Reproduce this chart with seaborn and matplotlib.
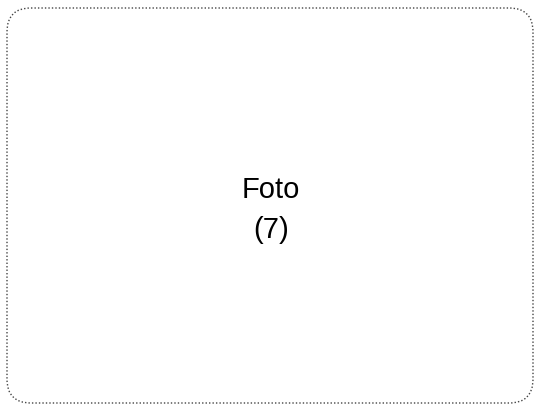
import matplotlib
matplotlib.use("Agg")
import matplotlib.pyplot as plt
import seaborn as sns
from matplotlib.patches import FancyBboxPatch

sns.set_theme(style="white")
plt.rcParams['font.family'] = ['Liberation Sans', 'DejaVu Sans']

label_lines = ["Foto", "(7)"]

W, H = 539, 409
fig = plt.figure(figsize=(W / 100, H / 100), dpi=100)
ax = fig.add_axes([0, 0, 1, 1])
ax.set_xlim(0, W)
ax.set_ylim(H, 0)
ax.axis("off")

# rounded dotted frame of the placeholder
frame = FancyBboxPatch((7 + 24, 8 + 24), 526 - 48, 395 - 48,
                       boxstyle="round,pad=24", fill=False,
                       edgecolor="#444444", linewidth=1.0,
                       linestyle=(0, (1, 1.5)))
ax.add_patch(frame)

baselines = [198, 238]
for txt, yb in zip(label_lines, baselines):
    ax.text(271, yb, txt, ha="center", va="baseline", fontsize=21, color="black")

fig.savefig("out.png", dpi=100)
